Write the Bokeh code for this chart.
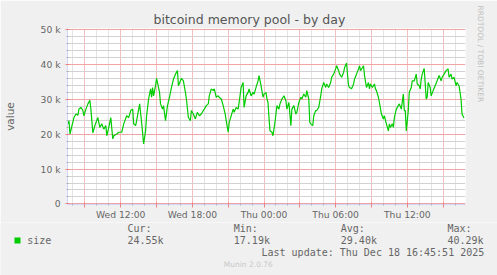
import math
from bokeh.plotting import figure
from bokeh.layouts import column
from bokeh.models import Range1d, FixedTicker, Label, BoxAnnotation, Title
from bokeh.embed import file_html
from bokeh.resources import INLINE

# ---- data: minutes since Wed 00:00, mempool size in thousands ----
minutes = [450, 460, 465, 475, 485, 495, 505, 510, 520, 530, 535, 545, 555, 565, 570, 580, 590, 605, 615, 625,
           635, 645, 650, 660, 670, 680, 685, 700, 710, 725, 735, 750, 760, 770, 780, 785, 795, 800, 815, 825,
           835, 845, 850, 860, 870, 875, 880, 885, 895, 900, 905, 915, 920, 930, 935, 945, 955, 965, 975, 985,
           995, 1005, 1010, 1020, 1025, 1035, 1045, 1050, 1060, 1070, 1075, 1085, 1095, 1105, 1115, 1125, 1135, 1140, 1150, 1160,
           1165, 1175, 1185, 1190, 1200, 1210, 1215, 1225, 1235, 1245, 1250, 1260, 1265, 1275, 1285, 1290, 1300, 1310, 1315, 1325,
           1335, 1340, 1350, 1360, 1365, 1375, 1385, 1390, 1400, 1410, 1415, 1425, 1435, 1440, 1450, 1455, 1460, 1465, 1470, 1480,
           1485, 1495, 1500, 1505, 1515, 1520, 1530, 1540, 1550, 1555, 1565, 1575, 1580, 1590, 1600, 1605, 1615, 1625, 1630, 1640,
           1650, 1655, 1665, 1670, 1675, 1685, 1690, 1700, 1705, 1715, 1725, 1730, 1740, 1750, 1755, 1765, 1775, 1780, 1790, 1800,
           1805, 1815, 1820, 1830, 1840, 1845, 1855, 1860, 1865, 1870, 1880, 1890, 1895, 1905, 1915, 1920, 1925, 1935, 1940, 1945,
           1955, 1965, 1970, 1975, 1985, 1995, 2000, 2005, 2015, 2020, 2030, 2040, 2045, 2055, 2065, 2070, 2075, 2085, 2090, 2095,
           2105, 2115, 2120, 2130, 2140, 2145, 2150, 2155, 2165, 2170, 2180, 2185, 2195, 2205, 2210, 2220, 2225, 2230, 2235, 2245,
           2255, 2260, 2265, 2275, 2280, 2290, 2300, 2310, 2320, 2330, 2335, 2345, 2355, 2365, 2370, 2380, 2385, 2395, 2405, 2410,
           2420, 2430, 2435, 2445]
size_k = [22.4, 23.8, 20.0, 22.4, 24.7, 25.7, 25.4, 27.1, 27.6, 26.7, 25.2, 27.1, 28.6, 29.6, 27.1, 20.3, 22.4, 24.7, 21.9, 22.9,
          21.4, 22.4, 19.5, 21.9, 24.7, 18.6, 19.5, 20.0, 20.5, 20.5, 22.9, 25.2, 24.7, 26.7, 27.1, 22.9, 22.4, 23.8, 28.6, 23.3,
          17.19, 20.9, 25.2, 30.0, 32.9, 30.5, 33.3, 30.9, 33.8, 35.9, 34.7, 31.9, 28.6, 27.1, 28.1, 23.8, 28.1, 30.5, 33.3, 35.7,
          37.1, 38.1, 33.8, 35.2, 35.9, 35.2, 31.9, 30.0, 24.7, 23.8, 26.7, 25.7, 24.3, 26.2, 25.2, 25.7, 26.7, 27.1, 28.1, 28.6,
          30.9, 32.9, 32.4, 32.9, 30.5, 30.9, 30.5, 30.0, 28.1, 25.7, 23.8, 20.5, 23.3, 25.2, 27.1, 26.2, 27.6, 27.1, 29.0, 33.3,
          34.7, 27.6, 30.9, 31.9, 32.9, 30.9, 31.9, 31.4, 33.3, 35.2, 36.7, 33.8, 30.5, 31.4, 31.9, 30.0, 29.0, 24.7, 20.9, 20.5,
          19.5, 23.3, 25.7, 28.1, 27.1, 28.6, 30.0, 30.9, 29.5, 27.1, 29.0, 22.4, 27.1, 28.1, 25.7, 26.2, 29.0, 30.5, 30.0, 31.4,
          30.5, 32.4, 30.0, 23.3, 22.9, 22.4, 25.2, 26.7, 26.7, 27.6, 30.9, 32.9, 34.7, 33.3, 34.3, 33.3, 34.7, 36.2, 37.1, 38.6,
          39.5, 38.1, 37.1, 36.2, 37.6, 39.0, 40.29, 36.7, 33.8, 33.3, 32.9, 34.3, 35.7, 37.1, 38.6, 39.5, 38.1, 39.0, 39.5, 36.7,
          33.3, 34.7, 32.9, 34.3, 33.3, 34.3, 32.9, 32.4, 30.5, 29.0, 25.7, 24.3, 25.2, 22.9, 20.9, 22.9, 21.9, 22.9, 21.9, 24.7,
          27.1, 28.1, 28.6, 27.1, 31.4, 26.7, 26.7, 20.9, 26.7, 31.9, 33.3, 35.2, 35.2, 37.1, 34.3, 33.8, 32.9, 35.7, 37.1, 38.7,
          30.0, 30.5, 34.7, 33.3, 30.9, 32.4, 33.8, 35.2, 36.7, 35.2, 36.2, 37.1, 38.1, 38.6, 36.2, 37.1, 35.7, 36.2, 33.8, 34.7,
          33.8, 30.0, 25.7, 24.55]

x_tick_hours = [9, 12, 15, 18, 21, 24, 27, 30, 33, 36, 39]
x_tick_labels = ["", "Wed 12:00", "", "Wed 18:00", "", "Thu 00:00", "", "Thu 06:00", "", "Thu 12:00", ""]
y_ticks = [0, 10000, 20000, 30000, 40000, 50000]
y_tick_labels = ["0", "10 k", "20 k", "30 k", "40 k", "50 k"]
y_minor_ticks = [2000, 4000, 6000, 8000, 12000, 14000, 16000, 18000, 22000, 24000, 26000, 28000,
                 32000, 34000, 36000, 38000, 42000, 44000, 46000, 48000]
x_minor_hours = [8, 10, 11, 13, 14, 16, 17, 19, 20, 22, 23, 25, 26, 28, 29, 31, 32, 34, 35, 37, 38, 40]

title_text = "bitcoind memory pool - by day"
y_label = "value"
series_name = "size"
stat_names = ["Cur:", "Min:", "Avg:", "Max:"]
stat_values = ["24.55k", "17.19k", "29.40k", "40.29k"]
last_update = "Last update: Thu Dec 18 16:45:51 2025"
footer = "Munin 2.0.76"
watermark = "RRDTOOL / TOBI OETIKER"

hours = [m / 60 for m in minutes]
values = [v * 1000 for v in size_k]

FONT = "#666666"
AXIS = "#CFD6F8"
GREEN = "#00CC00"
BACK = "#F0F0F0"

# ---------------- main chart ----------------
p = figure(width=497, height=222, output_backend="svg", toolbar_location=None,
           x_range=Range1d(452.5 / 60, 2452.5 / 60), y_range=Range1d(-142.86, 50142.86),
           min_border_left=67, min_border_right=30, min_border_top=28, min_border_bottom=18,
           background_fill_color="white", border_fill_color=BACK, outline_line_color=None)
p.frame_align = False

p.title.text = title_text
p.title.text_font = "DejaVu Sans"
p.title.text_font_size = "12.5px"
p.title.text_font_style = "normal"
p.title.text_color = "#555555"
p.title.align = "left"
p.title.offset = 86
p.title.standoff = 3

p.add_layout(Title(text=watermark, text_font="DejaVu Sans", text_font_size="7.5px",
                   text_font_style="normal", text_color="#BFBFBF", align="left",
                   offset=-23, standoff=21), "right")

x_ticker = FixedTicker(ticks=x_tick_hours, minor_ticks=x_minor_hours)
y_ticker = FixedTicker(ticks=y_ticks, minor_ticks=y_minor_ticks)

# x axis
xa = p.xaxis[0]
xa.ticker = x_ticker
xa.major_label_overrides = {h: l for h, l in zip(x_tick_hours, x_tick_labels)}
xa.major_label_text_font = "DejaVu Sans"
xa.major_label_text_font_size = "9.2px"
xa.major_label_text_color = FONT
xa.major_label_standoff = 1
xa.axis_line_color = AXIS
xa.major_tick_line_color = "#F08080"
xa.major_tick_in = 2
xa.major_tick_out = 3
xa.minor_tick_line_color = "#B0B0B0"
xa.minor_tick_in = 1
xa.minor_tick_out = 1

# y axis
ya = p.yaxis[0]
ya.ticker = y_ticker
ya.major_label_overrides = {t: l for t, l in zip(y_ticks, y_tick_labels)}
ya.major_label_text_font = "DejaVu Sans"
ya.major_label_text_font_size = "9.2px"
ya.major_label_text_color = FONT
ya.major_label_standoff = 5
ya.axis_line_color = AXIS
ya.major_tick_line_color = "#F08080"
ya.major_tick_in = 2
ya.major_tick_out = 2
ya.minor_tick_line_color = "#B0B0B0"
ya.minor_tick_in = 1
ya.minor_tick_out = 1
ya.axis_label = y_label
ya.axis_label_text_font = "DejaVu Sans"
ya.axis_label_text_font_size = "10.5px"
ya.axis_label_text_font_style = "normal"
ya.axis_label_text_color = FONT
ya.axis_label_standoff = 22

# grids (explicitly tied to the same tickers)
p.xgrid[0].ticker = x_ticker
p.ygrid[0].ticker = y_ticker
xg, yg = p.xgrid[0], p.ygrid[0]
xg.grid_line_color = "#F5BEBE"
xg.minor_grid_line_color = "#E4E4E4"
yg.grid_line_color = "#F0A4A4"
yg.minor_grid_line_color = "#D2D2D2"
for g in (xg, yg):
    g.grid_line_width = 1
    g.minor_grid_line_width = 1

p.line(hours, values, line_color=GREEN, line_width=1.2)

# ---------------- legend strip ----------------
lg = figure(width=497, height=53, output_backend="svg", toolbar_location=None,
            x_range=Range1d(0, 497), y_range=Range1d(275, 222),
            min_border=0, x_axis_location=None, y_axis_location=None,
            background_fill_color=BACK, border_fill_color=BACK, outline_line_color=None)
lg.frame_align = False
lg.xgrid.visible = False
lg.ygrid.visible = False


def txt(fig, x, y, s, size, color=FONT, font="DejaVu Sans Mono", align="left", baseline="middle"):
    fig.add_layout(Label(x=x, y=y, text=s, text_font=font, text_font_size=size, text_color=color,
                         text_align=align, text_baseline=baseline))


lg.add_layout(BoxAnnotation(left=14, right=20, top=237, bottom=243, fill_color=GREEN, fill_alpha=1,
                            line_color=None))
txt(lg, 26.7, 240, series_name, "10px")
for nm, val, xx in zip(stat_names, stat_values, [127, 233.3, 340.3, 447]):
    txt(lg, xx, 228, nm, "10px")
    txt(lg, xx, 240, val, "10px")
txt(lg, 261, 252, last_update, "10px")
txt(lg, 223.3, 263.5, footer, "7.5px", color="#C8C8C8", font="DejaVu Sans")

layout = column(p, lg, spacing=0)
open("out.html", "w").write(file_html(layout, INLINE))
